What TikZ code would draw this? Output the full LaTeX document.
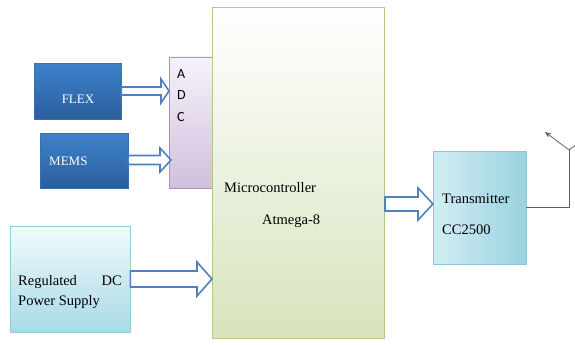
\documentclass[tikz,border=0pt]{standalone}
\usepackage{fontspec}
\setmainfont{Liberation Serif}
\newfontfamily\calib{Carlito}
\usetikzlibrary{shadows,calc,arrows.meta}
\definecolor{arrblue}{HTML}{4F81BD}
\newcommand\barrow[5]{%
  \draw[barr] let \p1=(#1), \p2=(#2) in
    (\x1,\y2+#3) -- (\x2-#5,\y2+#3) -- (\x2-#5,\y2+#4) -- (\x2,\y2)
    -- (\x2-#5,\y2-#4) -- (\x2-#5,\y2-#3) -- (\x1,\y2-#3) -- cycle;}
\begin{document}
\begin{tikzpicture}[x=1pt,y=-1pt,
  blk/.style={draw, line width=0.6pt, inner sep=0pt, drop shadow={shadow xshift=1.2pt, shadow yshift=-1.2pt, opacity=0.35}},
  bluebox/.style={blk, draw=HTML3A6FAF, top color=HTML3E82CC, bottom color=HTML2B5E9C},
  barr/.style={draw=arrblue, fill=white, line width=1.6pt, line join=miter},
  serif14/.style={font=\fontsize{14.5}{16}\selectfont, inner sep=0pt},
]
\tikzset{HTML3A6FAF/.style={}}
\definecolor{HTML3A6FAF}{HTML}{3A6FAF}
\definecolor{HTML3E82CC}{HTML}{3E82CC}
\definecolor{HTML2B5E9C}{HTML}{2B5E9C}
\definecolor{adcB}{HTML}{A596C0}
\definecolor{adcT}{HTML}{F6F2FA}
\definecolor{adcL}{HTML}{CFC0DC}
\definecolor{micB}{HTML}{B0CB85}
\definecolor{micL}{HTML}{D7E4BD}
\definecolor{pwB}{HTML}{93CDDC}
\definecolor{pwT}{HTML}{F2FAFC}
\definecolor{pwL}{HTML}{A8DAE6}
\definecolor{txB}{HTML}{8CC6D6}
\definecolor{txL}{HTML}{D2EDF4}
\definecolor{txR}{HTML}{9AD2E0}
\definecolor{antg}{HTML}{606060}
\useasboundingbox (0,0) rectangle (575,345);
% boxes
\node[blk, draw=adcB, top color=adcT, bottom color=adcL, minimum width=43pt, minimum height=131pt] (adc) at (190.5,122.5) {};
\node[blk, draw=micB, top color=white, bottom color=micL, minimum width=172pt, minimum height=331pt] (mc) at (298,172.5) {};
\node[bluebox, minimum width=87pt, minimum height=56pt] (flex) at (77.5,91) {};
\node[bluebox, minimum width=88pt, minimum height=55pt] (mems) at (84,160.5) {};
\node[blk, draw=pwB, top color=pwT, bottom color=pwL, minimum width=120pt, minimum height=106pt] (pw) at (70,279) {};
\node[blk, draw=txB, left color=txL, right color=txR, minimum width=93pt, minimum height=113pt] (tx) at (479.5,207.5) {};
% texts
\node[font=\fontsize{13}{15}\selectfont, text=white, inner sep=0pt, anchor=base] (tflex) at (78,103) {FLEX};
\node[font=\fontsize{13}{15}\selectfont, text=white, inner sep=0pt, anchor=base west] (tmems) at (49,165) {MEMS};
\node[font=\calib\fontsize{14}{16}\selectfont, inner sep=0pt, anchor=base west] (ta) at (177,78) {A};
\node[font=\calib\fontsize{14}{16}\selectfont, inner sep=0pt, anchor=base west] (td) at (177,99.5) {D};
\node[font=\calib\fontsize{14}{16}\selectfont, inner sep=0pt, anchor=base west] (tc) at (177,121) {C};
\node[serif14, anchor=base west] (tmc) at (224,192) {Microcontroller};
\node[serif14, anchor=base west] (tat) at (262,224) {Atmega-8};
\node[serif14, anchor=base west] (treg) at (18,285) {Regulated};
\node[serif14, anchor=base east] (tdc) at (122,285) {DC};
\node[serif14, anchor=base west] (tps) at (18,305) {Power Supply};
\node[serif14, anchor=base west] (ttx) at (442,203) {Transmitter};
\node[serif14, anchor=base west] (tcc) at (442,234) {CC2500};
% block arrows
\coordinate (e1) at (169,91);
\coordinate (e2) at (171,160);
\coordinate (e3) at (212,279);
\coordinate (s4) at (385,204);
\coordinate (e4) at (433,204);
\barrow{flex.east}{e1}{4pt}{12pt}{8}
\barrow{mems.east}{e2}{4.5pt}{12pt}{11}
\barrow{pw.east}{e3}{8pt}{17pt}{15}
\barrow{s4}{e4}{7pt}{16pt}{15}
% antenna
\coordinate (ac) at (569,207);
\coordinate (aj) at (569,150);
\coordinate (al) at (545,132);
\coordinate (ar) at (593,132);
\draw[antg, line width=0.8pt] (tx.east |- ac) -- (ac) -- (aj);
\draw[antg, line width=0.8pt, -{Stealth[length=6pt,width=5pt]}] (aj) -- (al);
\begin{scope}
\clip (0,0) rectangle (575,345);
\draw[antg, line width=0.8pt, -{Stealth[length=6pt,width=5pt]}] (aj) -- (ar);
\end{scope}
\end{tikzpicture}
\end{document}
